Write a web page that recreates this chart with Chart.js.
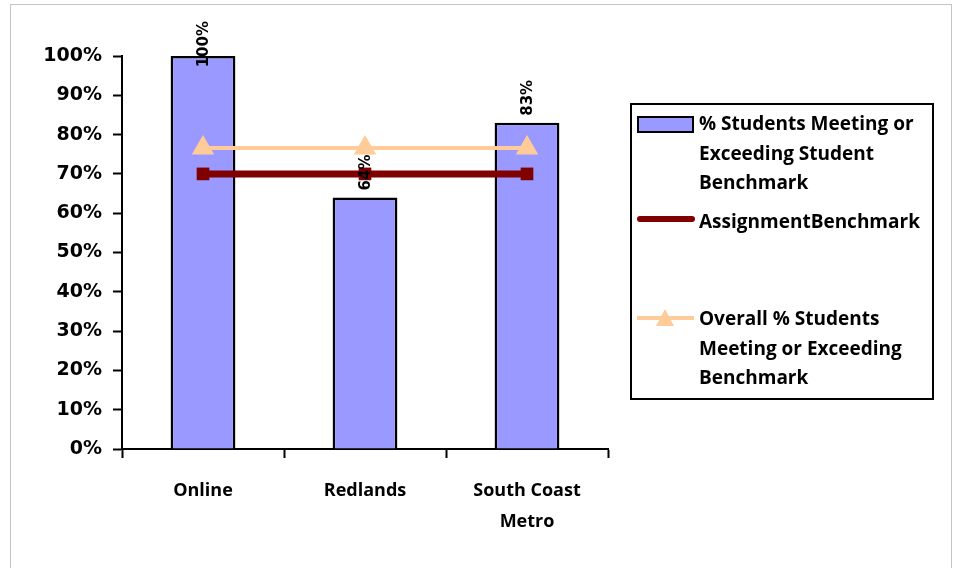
<!DOCTYPE html>
<html><head><meta charset="utf-8">
<script src="https://cdn.jsdelivr.net/npm/chart.js@4/dist/chart.umd.min.js"></script>
<style>html,body{margin:0;padding:0;background:#fff}#wrap{position:relative;width:961px;height:568px}</style>
</head><body><div id="wrap"><canvas id="c" width="961" height="568"></canvas></div>
<script>
const categories = ['Online', 'Redlands', ['South Coast', 'Metro']];
const studentPct = [100, 64, 83];
const assignmentBenchmark = [70, 70, 70];
const overallPct = [76.6, 76.6, 76.6];
const yMin = 0, yMax = 100, yStep = 10;
const legendLines = [
  ['% Students Meeting or', 'Exceeding Student', 'Benchmark'],
  ['AssignmentBenchmark'],
  ['Overall % Students', 'Meeting or Exceeding', 'Benchmark']
];

const frame = {
  id: 'frame',
  beforeDraw(chart) {
    const ctx = chart.ctx;
    ctx.save();
    ctx.strokeStyle = '#c4c4c4';
    ctx.lineWidth = 1;
    ctx.strokeRect(10.5, 4.5, 941, 620);
    ctx.restore();
  }
};

const barLabels = {
  id: 'barLabels',
  afterDraw(chart) {
    const ctx = chart.ctx;
    const meta = chart.getDatasetMeta(0);
    ctx.save();
    ctx.font = 'bold 15px "DejaVu Sans"';
    ctx.fillStyle = '#000';
    ctx.textBaseline = 'middle';
    ctx.textAlign = 'left';
    meta.data.forEach((el, i) => {
      const txt = studentPct[i] + '%';
      const w = ctx.measureText(txt).width;
      let bottom = el.y - 7;
      if (bottom - w < 21) bottom = 21 + w;
      ctx.save();
      ctx.translate(el.x + 1, bottom);
      ctx.rotate(-Math.PI / 2);
      ctx.fillText(txt, 0, 0);
      ctx.restore();
    });
    ctx.restore();
  }
};

const customLegend = {
  id: 'customLegend',
  afterDraw(chart) {
    const ctx = chart.ctx;
    const ds = chart.data.datasets;
    ctx.save();
    ctx.strokeStyle = '#000';
    ctx.lineWidth = 2;
    ctx.strokeRect(631, 104, 302, 295);
    ctx.font = 'bold 19px "Open Sans"';
    ctx.fillStyle = '#000';
    ctx.textBaseline = 'middle';
    ctx.textAlign = 'left';
    const tx = 699, lh = 29.5;
    ctx.fillStyle = ds[0].backgroundColor;
    ctx.fillRect(638, 117, 55, 15);
    ctx.strokeStyle = ds[0].borderColor;
    ctx.lineWidth = 2;
    ctx.strokeRect(638, 117, 55, 15);
    ctx.fillStyle = '#000';
    legendLines[0].forEach((t, k) => ctx.fillText(t, tx, 125 + k * lh));
    ctx.strokeStyle = ds[1].borderColor;
    ctx.lineWidth = 6;
    ctx.lineCap = 'round';
    ctx.beginPath(); ctx.moveTo(640, 219); ctx.lineTo(692, 219); ctx.stroke();
    ctx.lineCap = 'butt';
    legendLines[1].forEach((t, k) => ctx.fillText(t, tx, 223 + k * lh));
    ctx.strokeStyle = ds[2].borderColor;
    ctx.lineWidth = 4;
    ctx.beginPath(); ctx.moveTo(637, 318); ctx.lineTo(694, 318); ctx.stroke();
    ctx.fillStyle = ds[2].pointBackgroundColor;
    ctx.beginPath(); ctx.moveTo(665, 309); ctx.lineTo(674, 326); ctx.lineTo(656, 326); ctx.closePath(); ctx.fill();
    ctx.fillStyle = '#000';
    legendLines[2].forEach((t, k) => ctx.fillText(t, tx, 320 + k * lh));
    ctx.restore();
  }
};

new Chart(document.getElementById('c'), {
  data: {
    labels: categories,
    datasets: [
      {
        type: 'bar', label: legendLines[0].join(' '), data: studentPct,
        backgroundColor: '#9999ff', borderColor: '#000', borderWidth: 2.5,
        barPercentage: 0.4, categoryPercentage: 1, order: 2
      },
      {
        type: 'line', label: legendLines[1].join(' '), data: assignmentBenchmark,
        borderColor: '#800000', backgroundColor: '#800000', borderWidth: 7,
        pointStyle: 'rect', pointRadius: 4, pointBackgroundColor: '#800000', pointBorderColor: '#800000',
        order: 1
      },
      {
        type: 'line', label: legendLines[2].join(' '), data: overallPct,
        borderColor: '#ffcc99', backgroundColor: '#ffcc99', borderWidth: 4,
        pointStyle: 'triangle', pointRadius: 9, pointBackgroundColor: '#ffcc99', pointBorderColor: '#ffcc99',
        order: 0
      }
    ]
  },
  options: {
    responsive: false,
    animation: false,
    devicePixelRatio: 1,
    layout: { padding: { left: 0, top: 56, right: 353, bottom: 0 } },
    plugins: { legend: { display: false }, tooltip: { enabled: false } },
    scales: {
      x: {
        offset: true,
        grid: { offset: true, drawOnChartArea: false, drawTicks: true, tickLength: 9, tickColor: '#000', tickWidth: 2 },
        border: { display: true, color: '#000', width: 2 },
        ticks: { color: '#000', font: { family: 'Open Sans', weight: 'bold', size: 18, lineHeight: 1.7 }, padding: 18, maxRotation: 0 },
        afterFit(s) { s.height = 119; }
      },
      y: {
        min: yMin, max: yMax,
        grid: { drawOnChartArea: false, drawTicks: true, tickLength: 9, tickColor: '#000', tickWidth: 2 },
        border: { display: true, color: '#000', width: 2 },
        ticks: { stepSize: yStep, color: '#000', font: { family: 'DejaVu Sans', weight: 'bold', size: 19 }, padding: 11, callback: v => v + '%' },
        afterFit(s) { s.width = 122; }
      }
    }
  },
  plugins: [frame, barLabels, customLegend]
});
</script></body></html>
